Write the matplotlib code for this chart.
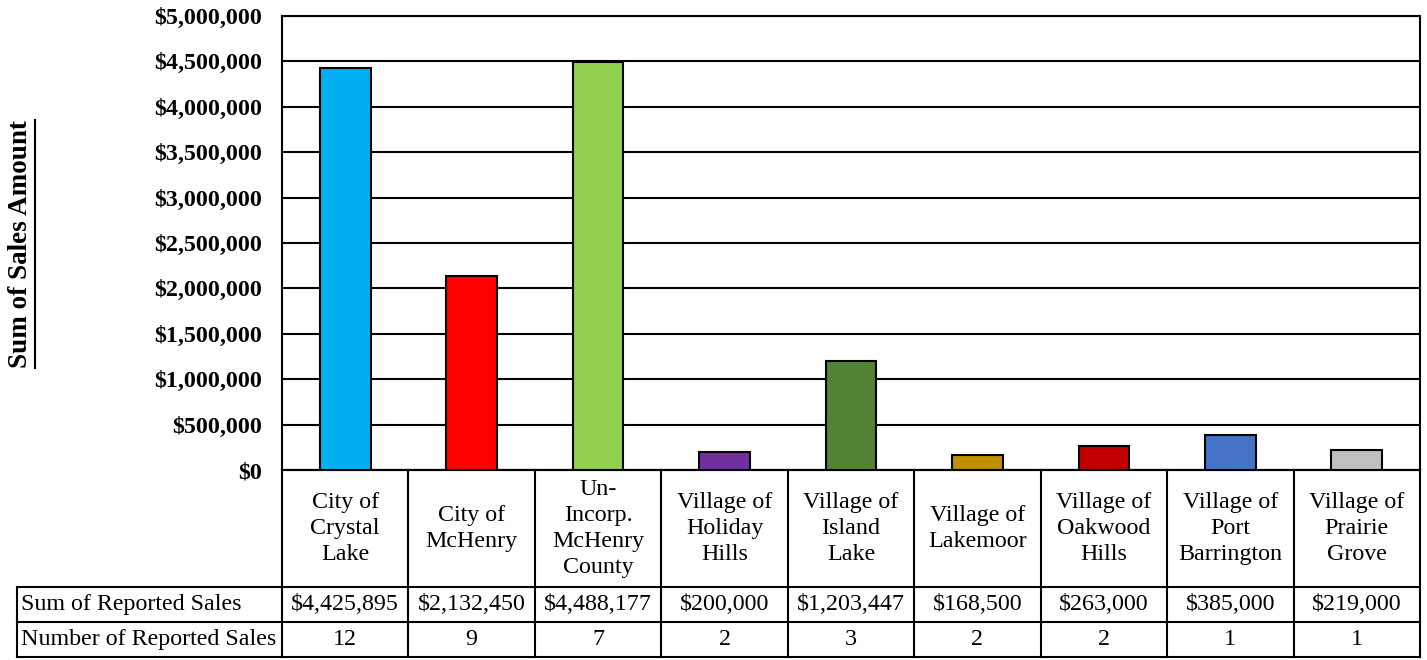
import matplotlib
matplotlib.use("Agg")
import matplotlib.pyplot as plt
from matplotlib.ticker import FuncFormatter, MultipleLocator
from matplotlib.lines import Line2D
import matplotlib.transforms as mtransforms

categories = ["City of\nCrystal\nLake", "City of\nMcHenry", "Un-\nIncorp.\nMcHenry\nCounty",
              "Village of\nHoliday\nHills", "Village of\nIsland\nLake", "Village of\nLakemoor",
              "Village of\nOakwood\nHills", "Village of\nPort\nBarrington", "Village of\nPrairie\nGrove"]
sales = [4425895, 2132450, 4488177, 200000, 1203447, 168500, 263000, 385000, 219000]
counts = [12, 9, 7, 2, 3, 2, 2, 1, 1]
colors = ["#00B0F0", "#FF0000", "#92D050", "#7030A0", "#548235", "#BF9000", "#C00000", "#4472C4", "#BFBFBF"]
row_labels = ["Sum of Reported Sales", "Number of Reported Sales"]
y_label = "Sum of Sales Amount"

plt.rcParams['font.family'] = ['Liberation Serif', 'DejaVu Serif']

W, H = 1427, 660
fig = plt.figure(figsize=(W / 100, H / 100), dpi=100)
L, R, T, B = 282, 1420, 16, 470
ax = fig.add_axes([L / W, 1 - B / H, (R - L) / W, (B - T) / H])

x = list(range(len(categories)))
ax.bar(x, sales, width=0.40, color=colors, edgecolor="black", linewidth=1.5, zorder=3)
ax.set_xlim(-0.5, len(categories) - 0.5)
ax.set_ylim(0, 5000000)
ax.yaxis.set_major_locator(MultipleLocator(500000))
ax.yaxis.set_major_formatter(FuncFormatter(lambda v, p: "${:,.0f}".format(v)))
ax.grid(axis="y", color="black", linewidth=1.5, zorder=0)
ax.set_xticks([])
ax.tick_params(axis="y", length=0, pad=14, labelsize=17.3)
for lab in ax.get_yticklabels():
    lab.set_fontweight("bold")
for s in ax.spines.values():
    s.set_linewidth(1.5)
    s.set_color("black")

def ay(py):
    return (B - py) / (B - T)

row_tops = [470, 587, 622, 657]
trans = mtransforms.blended_transform_factory(ax.transData, ax.transAxes)
n = len(categories)
lw = 1.5
TL = 17
ax.add_line(Line2D([-0.5, n - 0.5], [ay(470)] * 2, transform=trans, color="black", lw=lw, clip_on=False))
for py in row_tops[1:]:
    fig.add_artist(Line2D([TL / W, R / W], [1 - py / H] * 2, color="black", lw=lw))
for k in range(n + 1):
    ax.add_line(Line2D([k - 0.5, k - 0.5], [ay(470), ay(657)], transform=trans, color="black", lw=lw, clip_on=False))
fig.add_artist(Line2D([TL / W, TL / W], [1 - 587 / H, 1 - 657 / H], color="black", lw=lw))

fs = 17.3
for k in range(n):
    ax.text(k, ay((470 + 587) / 2), categories[k], transform=trans, ha="center", va="center",
            fontsize=fs, linespacing=1.33)
    ax.text(k, ay((587 + 622) / 2), "${:,.0f}".format(sales[k]), transform=trans, ha="center",
            va="center", fontsize=fs)
    ax.text(k, ay((622 + 657) / 2), str(counts[k]), transform=trans, ha="center", va="center", fontsize=fs)
for j, lab in enumerate(row_labels):
    fig.text(21 / W, 1 - ((row_tops[j + 1] + row_tops[j + 2]) / 2) / H, lab, ha="left", va="center", fontsize=fs)

yl = fig.text(21 / W, 1 - 244 / H, y_label, rotation=90, ha="center", va="center",
              fontsize=19.5, fontweight="bold")
fig.canvas.draw()
bb = yl.get_window_extent(fig.canvas.get_renderer())
ux = (bb.x1 + 1) / W
fig.add_artist(Line2D([ux, ux], [bb.y0 / H, bb.y1 / H], color="black", lw=1.5))

fig.savefig("out.png", dpi=100)
